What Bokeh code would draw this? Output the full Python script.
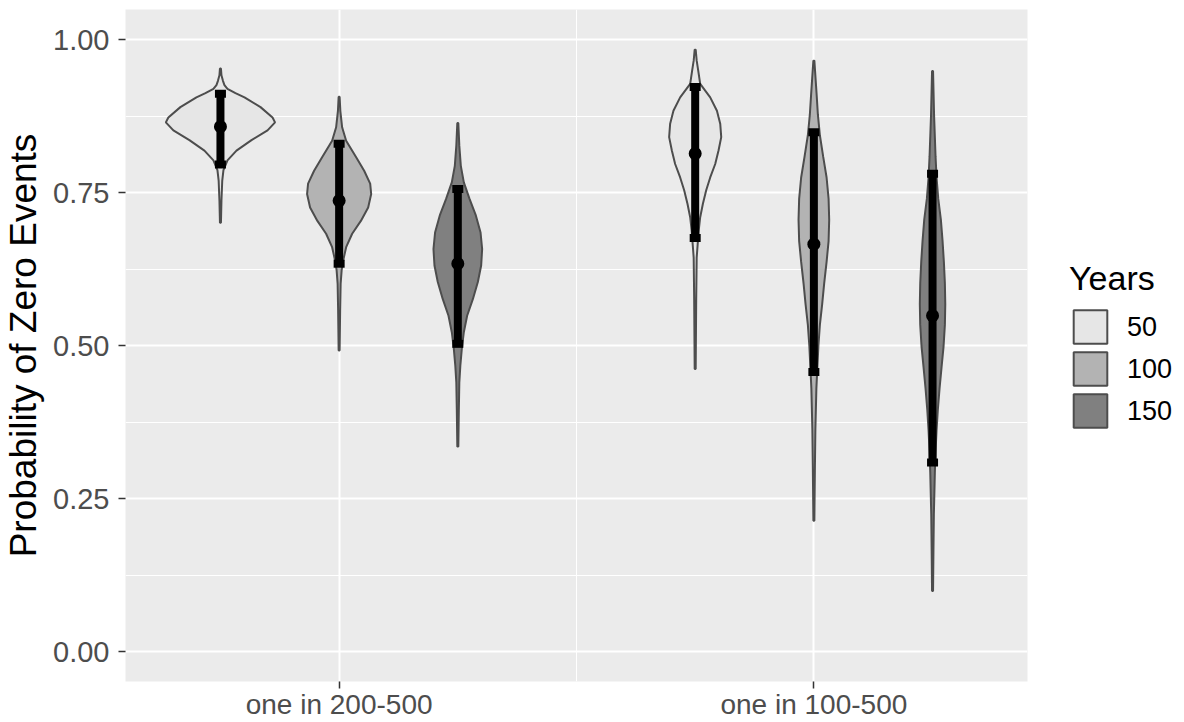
from bokeh.plotting import figure
from bokeh.models import FixedTicker, Legend, LegendItem, PrintfTickFormatter
from bokeh.embed import file_html
from bokeh.resources import INLINE
import numpy as np

# ---------------- data ----------------
categories = ["one in 200-500", "one in 100-500"]
years = ["50", "100", "150"]
fill_colors = ["#E6E6E6", "#B3B3B3", "#808080"]

# violin profiles: probability values and relative density
v200_50_y = [0.953, 0.942, 0.933, 0.926, 0.920, 0.913, 0.906, 0.890, 0.873, 0.865, 0.852,
             0.836, 0.819, 0.803, 0.787, 0.770, 0.737, 0.701]
v200_50_d = [0.5, 1.0, 2.5, 4, 7, 15, 24, 40, 52, 54.5, 47, 31, 16, 7, 3, 1.8, 1.0, 0.5]

v200_100_y = [0.907, 0.884, 0.857, 0.835, 0.808, 0.786, 0.765, 0.748, 0.726, 0.704, 0.683,
              0.661, 0.639, 0.623, 0.601, 0.557, 0.492]
v200_100_d = [0.5, 1.2, 3, 7, 17, 25, 31, 32, 29, 21.7, 13, 7, 4, 2.5, 1.5, 1.0, 0.5]

v200_150_y = [0.864, 0.827, 0.794, 0.767, 0.740, 0.713, 0.685, 0.658, 0.631, 0.604, 0.576,
              0.549, 0.522, 0.495, 0.467, 0.440, 0.394, 0.335]
v200_150_d = [0.5, 1.5, 3, 6, 11.7, 18, 22.7, 24.3, 23.3, 20, 15, 9.3, 6, 4, 2.5, 1.5, 1.0, 0.5]

v100_50_y = [0.984, 0.966, 0.950, 0.928, 0.906, 0.884, 0.863, 0.841, 0.819, 0.797, 0.775,
             0.754, 0.732, 0.710, 0.688, 0.666, 0.644, 0.574, 0.462]
v100_50_d = [0.5, 1.5, 3, 5, 15, 21.7, 25, 26, 23.3, 20, 15, 11, 7.7, 5, 3.5, 2.5, 1.5, 1.0, 0.5]

v100_100_y = [0.966, 0.912, 0.878, 0.844, 0.809, 0.775, 0.740, 0.706, 0.671, 0.637, 0.602,
              0.568, 0.534, 0.499, 0.465, 0.430, 0.396, 0.362, 0.296, 0.214]
v100_100_d = [0.5, 2.7, 4, 6, 9.3, 12.7, 14.7, 15.3, 14.7, 12.7, 10.3, 8.3, 6, 4.5, 3.5, 2.5,
              2, 1.5, 1.0, 0.5]

v100_150_y = [0.949, 0.878, 0.809, 0.775, 0.740, 0.706, 0.671, 0.637, 0.602, 0.568, 0.534,
              0.499, 0.465, 0.430, 0.396, 0.362, 0.327, 0.293, 0.258, 0.224, 0.165, 0.099]
v100_150_d = [0.5, 1.5, 3, 4, 5.7, 8.3, 10, 11.3, 12.3, 12.7, 12.3, 11, 9, 7, 5.3, 4, 3, 2.3,
              1.8, 1.3, 0.9, 0.5]

# interval summaries (lower, median, upper), order: cat1 50/100/150, cat2 50/100/150
q_low = [0.796, 0.634, 0.503, 0.676, 0.457, 0.309]
q_med = [0.858, 0.737, 0.634, 0.814, 0.666, 0.549]
q_high = [0.912, 0.830, 0.756, 0.923, 0.849, 0.781]

y_ticks = [0.0, 0.25, 0.5, 0.75, 1.0]

# ---------------- figure ----------------
p = figure(frame_width=902, frame_height=672, x_range=(0.55, 2.45), y_range=(-0.049, 1.0496),
           output_backend="svg", toolbar_location=None,
           min_border_left=125, min_border_right=157, min_border_top=9, min_border_bottom=41)
p.background_fill_color = "#EBEBEB"
p.border_fill_color = "white"
p.outline_line_color = None

profiles = [(v200_50_y, v200_50_d), (v200_100_y, v200_100_d), (v200_150_y, v200_150_d),
            (v100_50_y, v100_50_d), (v100_100_y, v100_100_d), (v100_150_y, v100_150_d)]
max_d = max(max(d) for _, d in profiles)
MAX_HALF = 0.115
DODGE = 0.25

centers = []
legend_renderers = {}
for k, (ys, ds) in enumerate(profiles):
    ci, yi = divmod(k, 3)
    c = ci + 1 + (yi - 1) * DODGE
    centers.append(c)
    ys = np.array(ys, dtype=float)
    hw = np.array(ds, dtype=float) / max_d * MAX_HALF
    xs = np.concatenate([c + hw, (c - hw)[::-1]])
    yy = np.concatenate([ys, ys[::-1]])
    r = p.patch(xs, yy, fill_color=fill_colors[yi], line_color="#4D4D4D", line_width=2)
    if yi not in legend_renderers:
        legend_renderers[yi] = r

p.segment(x0=centers, y0=q_low, x1=centers, y1=q_high, line_color="black", line_width=8)
p.rect(x=centers + centers, y=q_low + q_high, width=11, height=8,
       width_units="screen", height_units="screen", fill_color="black", line_color=None)
p.scatter(x=centers, y=q_med, size=13, marker="circle", fill_color="black", line_color=None)

# axes
p.xaxis.ticker = FixedTicker(ticks=[1, 2], minor_ticks=[1.5])
p.xaxis.major_label_overrides = {1: categories[0], 2: categories[1]}
p.yaxis.ticker = FixedTicker(ticks=y_ticks, minor_ticks=[0.125, 0.375, 0.625, 0.875])
p.yaxis.formatter = PrintfTickFormatter(format="%.2f")
for ax in (p.xaxis, p.yaxis):
    ax.axis_line_color = None
    ax.major_tick_line_color = "#333333"
    ax.major_tick_line_width = 1.5
    ax.major_tick_out = 7
    ax.major_tick_in = 0
    ax.minor_tick_line_color = None
    ax.major_label_text_color = "#4D4D4D"
    ax.major_label_text_font = "Liberation Sans"
    ax.major_label_text_font_size = "29px"
p.xaxis.major_label_text_font_size = "28px"
p.xaxis.major_label_standoff = 0
p.yaxis.major_label_standoff = 9
p.yaxis.axis_label = "Probability of Zero Events"
p.yaxis.axis_label_text_font = "Liberation Sans"
p.yaxis.axis_label_text_font_size = "37px"
p.yaxis.axis_label_text_font_style = "normal"
p.yaxis.axis_label_text_color = "black"
p.yaxis.axis_label_standoff = 6

for g in (p.xgrid, p.ygrid):
    g.grid_line_color = "white"
    g.grid_line_width = 2
    g.minor_grid_line_color = "white"
    g.minor_grid_line_width = 1

legend = Legend(items=[LegendItem(label=years[i], renderers=[legend_renderers[i]]) for i in range(3)],
                location="center_left", orientation="vertical")
legend.title = "Years"
legend.title_text_font = "Liberation Sans"
legend.title_text_font_size = "34px"
legend.title_text_font_style = "normal"
legend.title_text_color = "black"
legend.title_standoff = 8
legend.label_text_font = "Liberation Sans"
legend.label_text_font_size = "27px"
legend.label_text_color = "black"
legend.glyph_width = 42
legend.glyph_height = 42
legend.label_height = 42
legend.label_standoff = 16
legend.spacing = 0
legend.padding = 0
legend.margin = 42
legend.border_line_color = None
legend.background_fill_color = "white"
p.add_layout(legend, "right")

open("out.html", "w").write(file_html(p, INLINE))
